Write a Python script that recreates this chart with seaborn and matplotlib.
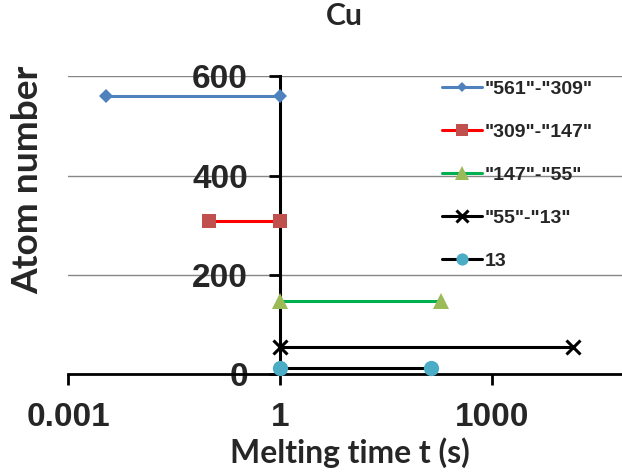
import matplotlib
matplotlib.use("Agg")
import matplotlib.pyplot as plt
import matplotlib.font_manager as fm
import seaborn as sns
import pandas as pd
from matplotlib.ticker import FixedLocator, FixedFormatter, NullLocator

# ---- data ----
series_labels = ['"561"-"309"', '"309"-"147"', '"147"-"55"', '"55"-"13"', '13']
x_start = [0.0035, 0.1, 1, 1, 1]
x_end = [1, 1, 190, 14000, 140]
atom_number = [561, 309, 147, 55, 13]
x_ticks = [0.001, 1, 1000]
x_tick_labels = ["0.001", "1", "1000"]
y_ticks = [0, 200, 400, 600]
y_tick_labels = ["0", "200", "400", "600"]

line_colors = ["#4F81BD", "#FF0000", "#00B050", "#000000", "#000000"]
marker_colors = ["#4F81BD", "#C0504D", "#9BBB59", "#000000", "#4BACC6"]
markers = ["D", "s", "^", "x", "o"]
marker_sizes = [7, 10.5, 12, 10, 11]

sns.set_style("white")
plt.rcParams["font.family"] = ["Liberation Sans", "DejaVu Sans"]


def pick_bold(cands):
    for c in cands:
        try:
            f = fm.findfont(fm.FontProperties(family=c, weight="bold"), fallback_to_default=False)
            if "bold" in f.lower() and c.replace(" ", "").lower() in f.replace(" ", "").lower():
                return c
        except Exception:
            pass
    return "Liberation Sans"


lab_family = pick_bold(["Lato", "Open Sans", "Noto Sans", "Roboto", "Liberation Sans"])
lab_font = [lab_family, "DejaVu Sans"]

fig = plt.figure(figsize=(6.22, 4.76), dpi=100)
W, H = 622, 476
ax = fig.add_axes([68 / W, 102 / H, 565 / W, 297.7 / H])

for i, lab in enumerate(series_labels):
    df = pd.DataFrame({"t": [x_start[i], x_end[i]], "n": [atom_number[i], atom_number[i]]})
    mk = markers[i]
    kws = dict(color=line_colors[i], marker=mk, markersize=marker_sizes[i],
               markerfacecolor=marker_colors[i], markeredgecolor=marker_colors[i],
               markeredgewidth=2.2 if mk == "x" else 0, linewidth=2.2, label=lab,
               clip_on=False, zorder=5)
    sns.lineplot(data=df, x="t", y="n", ax=ax, sort=False, **kws)

ax.set_xscale("log")
ax.set_xlim(1e-3, 1e5)
ax.set_ylim(0, 600)
ax.xaxis.set_major_locator(FixedLocator(x_ticks))
ax.xaxis.set_major_formatter(FixedFormatter(x_tick_labels))
ax.xaxis.set_minor_locator(NullLocator())
ax.yaxis.set_major_locator(FixedLocator(y_ticks))
ax.yaxis.set_major_formatter(FixedFormatter(y_tick_labels))

ax.spines["top"].set_visible(False)
ax.spines["right"].set_visible(False)
ax.spines["left"].set_position(("data", 1))
ax.spines["left"].set_linewidth(2.2)
ax.spines["left"].set_color("black")
ax.spines["bottom"].set_linewidth(2.0)
ax.spines["bottom"].set_color("black")

ax.yaxis.grid(True, color="#868686", linewidth=1.0)
ax.xaxis.grid(False)
ax.set_axisbelow(True)

ax.tick_params(axis="x", direction="out", length=8, width=2, color="black",
               pad=12, labelsize=24, bottom=True)
ax.tick_params(axis="y", direction="out", length=8, width=2, color="black",
               pad=15, labelsize=24, left=True)
for t in ax.get_xticklabels() + ax.get_yticklabels():
    t.set_fontweight("bold")

xl = ax.set_xlabel("Melting time t (s)", va="baseline")
ax.xaxis.set_label_coords((350 - 68) / 565, (374 - 463) / 297.7)
yl = ax.set_ylabel("Atom number", va="center")
ax.yaxis.set_label_coords((28 - 68) / 565, (374 - 180) / 297.7)
tl = ax.set_title("Cu", x=(344 - 68) / 565, y=(374 - 33) / 297.7, va="baseline")
for txt in (xl, yl, tl):
    txt.set_family(lab_font)
    txt.set_fontweight("bold")
    txt.set_fontsize(20)

handles, labels = ax.get_legend_handles_labels()
leg = ax.legend(handles, labels, loc="upper left", bbox_to_anchor=(442 / W, 1 - 80 / H),
                bbox_transform=fig.transFigure, frameon=False, borderpad=0, borderaxespad=0,
                handlelength=2.06, handletextpad=0.15, labelspacing=1.31, markerscale=0.8,
                prop={"family": ["Liberation Sans"], "weight": "bold", "size": 14})

# scale text fonts toward the text extents seen in the reference
fig.canvas.draw()
r = fig.canvas.get_renderer()
for txt, target, dim in [(xl, 240, "w"), (yl, 228, "h")]:
    bb = txt.get_window_extent(r)
    cur = bb.width if dim == "w" else bb.height
    txt.set_fontsize(txt.get_fontsize() * target / cur)
tl.set_fontsize(xl.get_fontsize() * 0.95)

fig.savefig("out.png", dpi=100)
